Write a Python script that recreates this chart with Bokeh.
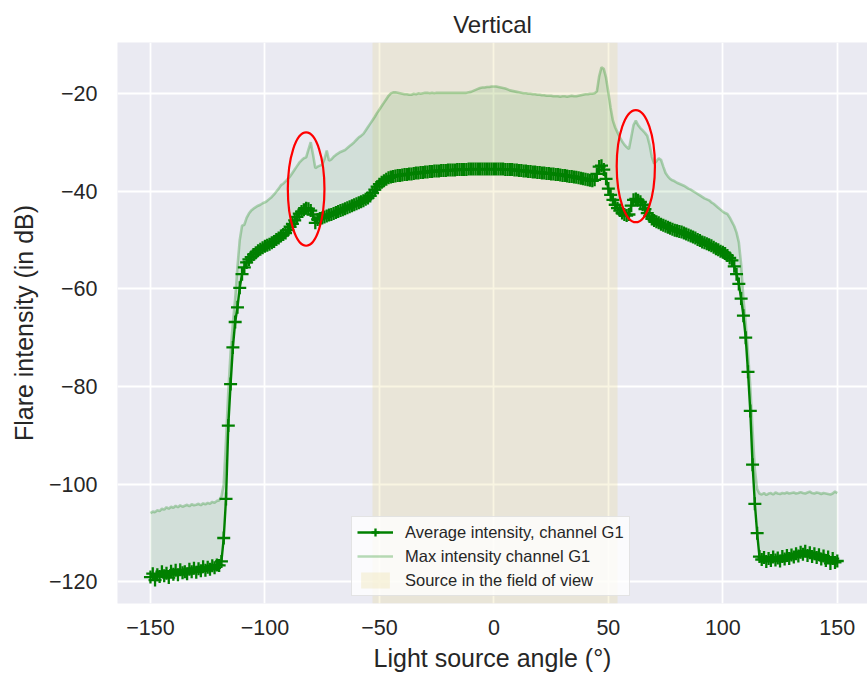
import numpy as np
from bokeh.plotting import figure
from bokeh.models import Range1d, FixedTicker, CustomJSTickFormatter
from bokeh.embed import file_html
from bokeh.resources import INLINE

# ---- data ----
angles = np.arange(-150, 151)  # light source angle, degrees (1 degree step)

avg_db = [
    -119.0, -118.3, -119.6, -118.5, -118.9, -117.9, -118.7, -118.2, -119.1, -117.8,
    -118.4, -117.6, -118.5, -117.5, -118.1, -117.9, -118.3, -117.4, -117.9, -117.2,
    -118.0, -117.3, -117.7, -116.9, -117.6, -117.0, -117.4, -116.7, -117.1, -116.5,
    -116.6, -115.8, -111.0, -103.0, -88.0, -79.5, -72.0, -66.8, -63.8, -59.8,
    -57.0, -55.6, -54.6, -54.0, -53.5, -53.0, -52.6, -52.2, -51.9, -51.6,
    -51.3, -51.1, -50.9, -50.6, -50.3, -49.9, -49.6, -49.2, -48.9, -48.6,
    -48.0, -47.3, -46.7, -46.0, -45.3, -44.6, -44.2, -43.8, -43.5, -43.6,
    -44.0, -44.8, -46.5, -45.8, -45.6, -45.5, -45.3, -45.1, -44.9, -44.8,
    -44.6, -44.4, -44.2, -44.0, -43.8, -43.6, -43.4, -43.2, -43.0, -42.8,
    -42.6, -42.4, -42.2, -42.0, -41.7, -41.4, -41.0, -40.4, -39.7, -39.1,
    -38.6, -38.2, -37.9, -37.6, -37.3, -37.1, -37.0, -36.9, -36.8, -36.8,
    -36.7, -36.6, -36.6, -36.5, -36.5, -36.4, -36.3, -36.3, -36.2, -36.2,
    -36.1, -36.1, -36.0, -36.0, -35.9, -35.9, -35.9, -35.8, -35.8, -35.8,
    -35.7, -35.7, -35.7, -35.7, -35.6, -35.6, -35.6, -35.6, -35.6, -35.5,
    -35.5, -35.5, -35.5, -35.5, -35.5, -35.5, -35.5, -35.5, -35.5, -35.5,
    -35.5, -35.5, -35.5, -35.5, -35.5, -35.6, -35.6, -35.6, -35.6, -35.7,
    -35.7, -35.8, -35.8, -35.9, -35.9, -36.0, -36.0, -36.1, -36.1, -36.2,
    -36.2, -36.3, -36.3, -36.4, -36.4, -36.5, -36.5, -36.6, -36.6, -36.7,
    -36.8, -36.8, -36.9, -37.0, -37.0, -37.1, -37.2, -37.3, -37.4, -37.5,
    -37.6, -37.7, -37.8, -37.9, -37.7, -36.5, -35.0, -34.8, -35.6, -37.5,
    -39.5, -40.8, -41.8, -42.8, -43.5, -44.0, -44.5, -44.8, -45.0, -44.8,
    -43.0, -41.8, -41.6, -41.9, -42.2, -42.8, -43.7, -44.5, -45.2, -45.7,
    -46.0, -46.3, -46.5, -46.8, -47.0, -47.2, -47.4, -47.6, -47.8, -48.0,
    -48.1, -48.3, -48.4, -48.6, -48.8, -49.0, -49.2, -49.4, -49.6, -49.9,
    -50.1, -50.4, -50.6, -50.8, -51.0, -51.2, -51.5, -51.8, -52.0, -52.3,
    -52.5, -52.8, -53.2, -53.7, -54.2, -55.4, -57.0, -59.0, -62.0, -65.5,
    -70.0, -77.0, -85.0, -96.0, -104.0, -110.0, -114.8, -115.4, -115.0, -115.8,
    -115.2, -115.6, -114.9, -115.5, -115.1, -115.7, -114.8, -115.3, -114.6, -115.2,
    -114.5, -114.9, -114.2, -114.7, -113.9, -114.3, -113.7, -114.6, -114.0, -114.8,
    -114.2, -115.0, -114.4, -115.3, -114.7, -115.6, -114.9, -116.2, -115.2, -116.0,
    -115.7,
]

max_db = [
    -105.9, -105.6, -105.7, -105.3, -105.5, -105.0, -105.2, -104.7, -105.0, -104.6,
    -104.8, -104.4, -104.7, -104.3, -104.6, -104.4, -104.2, -104.5, -104.1, -104.3,
    -104.2, -104.0, -104.3, -103.9, -104.1, -103.8, -104.0, -103.6, -103.8, -103.4,
    -103.3, -102.5, -100.0, -91.0, -81.0, -73.0, -67.0, -62.0, -55.5, -50.0,
    -47.1, -46.9, -45.5, -44.6, -44.0, -43.6, -43.3, -43.0, -42.8, -42.5,
    -42.3, -42.0, -41.6, -41.2, -40.7, -40.1, -39.5, -38.8, -38.5, -38.0,
    -37.5, -37.0, -36.3, -35.6, -34.9, -34.2, -33.7, -33.3, -33.1, -31.5,
    -30.0, -32.5, -35.3, -35.0, -34.8, -34.6, -33.5, -31.7, -33.8, -33.5,
    -33.0, -32.6, -32.3, -32.0, -31.8, -31.6, -31.2, -30.8, -30.4, -30.0,
    -29.5, -29.0, -28.7, -28.3, -27.6, -26.9, -26.2, -25.5, -24.8, -24.0,
    -23.3, -22.6, -21.9, -21.2, -20.5, -20.0, -19.8, -19.8, -19.9, -20.0,
    -20.1, -20.2, -20.2, -20.3, -20.3, -20.1, -20.2, -20.0, -20.1, -20.0,
    -19.9, -19.9, -20.0, -19.9, -20.0, -19.9, -19.9, -19.9, -19.9, -19.9,
    -19.9, -19.9, -19.9, -19.9, -19.9, -19.9, -19.9, -19.9, -19.9, -19.8,
    -19.7, -19.5, -19.3, -19.1, -18.9, -18.8, -18.8, -18.7, -18.7, -18.6,
    -18.6, -18.6, -18.7, -18.8, -18.9, -19.0, -19.2, -19.4, -19.5, -19.6,
    -19.7, -19.8, -19.9, -20.0, -20.0, -20.1, -20.1, -20.2, -20.2, -20.3,
    -20.3, -20.4, -20.4, -20.5, -20.5, -20.5, -20.6, -20.6, -20.6, -20.7,
    -20.6, -20.6, -20.7, -20.6, -20.5, -20.6, -20.6, -20.5, -20.4, -20.3,
    -20.2, -20.2, -20.1, -20.1, -20.0, -19.6, -16.5, -14.7, -15.0, -16.8,
    -19.8, -23.0, -25.6, -27.0, -28.0, -29.0, -29.8, -30.5, -31.0, -31.4,
    -29.0, -26.5, -25.6, -26.5, -27.1, -27.6, -28.1, -28.7, -30.5, -33.0,
    -34.4, -33.9, -33.3, -33.6, -35.0, -36.3, -37.0, -37.5, -37.8, -38.0,
    -38.3, -38.5, -38.7, -38.9, -39.2, -39.5, -39.7, -40.0, -40.3, -40.6,
    -40.9, -41.2, -41.5, -41.7, -41.9, -42.3, -42.6, -43.0, -43.4, -43.8,
    -44.2, -44.5, -44.7, -45.4, -46.3, -47.2, -48.5, -50.5, -55.0, -62.0,
    -67.0, -73.0, -80.0, -89.0, -97.0, -101.0, -101.9, -102.1, -101.8, -102.2,
    -101.9, -101.8, -102.1, -101.7, -101.9, -102.0, -101.8, -101.9, -101.7, -101.9,
    -101.8, -101.7, -101.9, -101.8, -101.6, -101.8, -101.9, -101.7, -101.5, -101.8,
    -101.9, -101.7, -101.8, -102.0, -101.8, -101.9, -102.0, -102.1, -101.9, -101.5,
    -101.8,
]

# field-of-view span (degrees)
fov_left = -53.0
fov_right = 54.0

# axis limits
x_min, x_max = -164.4, 163.2
y_min, y_max = -124.4, -9.6

# highlighted regions (red ellipses): centre angle, centre dB, width deg, height dB
ell_x = [-82.0, 62.0]
ell_y = [-39.6, -34.9]
ell_w = [16.0, 16.7]
ell_h = [23.2, 23.0]

x_ticks = [-150, -100, -50, 0, 50, 100, 150]
y_ticks = [-120, -100, -80, -60, -40, -20]

FONT = "Liberation Sans"
TXT = "#262626"

p = figure(
    width=867, height=685,
    output_backend="svg", toolbar_location=None,
    x_range=Range1d(x_min, x_max), y_range=Range1d(y_min, y_max),
    min_border_left=117, min_border_right=0, min_border_top=42, min_border_bottom=82,
    title="Vertical",
)
p.background_fill_color = "#EAEAF2"
p.border_fill_color = "white"
p.outline_line_color = None

p.title.align = "center"
p.title.text_font = FONT
p.title.text_font_size = "24px"
p.title.text_font_style = "normal"
p.title.text_color = TXT

p.grid.grid_line_color = "white"
p.grid.grid_line_width = 1.8
p.xgrid.ticker = FixedTicker(ticks=x_ticks)
p.ygrid.ticker = FixedTicker(ticks=y_ticks)

fmt = CustomJSTickFormatter(code="return tick < 0 ? '\u2212' + Math.abs(tick) : String(tick);")
for ax, ticks in ((p.xaxis, x_ticks), (p.yaxis, y_ticks)):
    ax.ticker = FixedTicker(ticks=ticks)
    ax.formatter = fmt
    ax.axis_line_color = None
    ax.major_tick_line_color = None
    ax.minor_tick_line_color = None
    ax.major_tick_out = 0
    ax.major_tick_in = 0
    ax.major_label_text_font = FONT
    ax.major_label_text_font_size = "21.5px"
    ax.major_label_text_color = TXT
    ax.axis_label_text_font = FONT
    ax.axis_label_text_font_size = "25px"
    ax.axis_label_text_font_style = "normal"
    ax.axis_label_text_color = TXT

p.xaxis.axis_label = "Light source angle (°)"
p.yaxis.axis_label = "Flare intensity (in dB)"
p.xaxis.major_label_standoff = 16
p.xaxis.axis_label_standoff = 6
p.yaxis.major_label_standoff = 20
p.yaxis.axis_label_standoff = 8

span_color = "#e6d68c"
span_alpha = 0.25
# field-of-view span, drawn as a quad over the full y extent (also gives the legend entry)
p.quad(left=[fov_left], right=[fov_right], bottom=[y_min], top=[y_max],
       fill_color=span_color, fill_alpha=span_alpha, line_color=None,
       legend_label="Source in the field of view")

p.varea(x=angles, y1=avg_db, y2=max_db, fill_color="green", fill_alpha=0.1)
p.line(angles, max_db, line_color="green", line_alpha=0.28, line_width=2.6,
       legend_label="Max intensity channel G1")
p.line(angles, avg_db, line_color="green", line_width=2.4,
       legend_label="Average intensity, channel G1")
p.scatter(angles, avg_db, marker="cross", size=13, line_color="green", line_width=2.3,
          legend_label="Average intensity, channel G1")

p.ellipse(x=ell_x, y=ell_y, width=ell_w, height=ell_h, fill_color=None,
          line_color="red", line_width=2.2)

lg = p.legend[0]
items = lg.items
order = ["Average intensity, channel G1", "Max intensity channel G1", "Source in the field of view"]
lg.items = sorted(items, key=lambda it: order.index(it.label.value))
lg.location = (234, 7)
lg.label_text_font = FONT
lg.label_text_font_size = "16.5px"
lg.label_text_color = TXT
lg.glyph_width = 36
lg.glyph_height = 20
lg.label_height = 20
lg.label_standoff = 12
lg.spacing = 4
lg.padding = 5
lg.margin = 0
lg.background_fill_color = "white"
lg.background_fill_alpha = 0.8
lg.border_line_color = "#cccccc"
lg.border_line_width = 1

open("out.html", "w").write(file_html(p, INLINE))
